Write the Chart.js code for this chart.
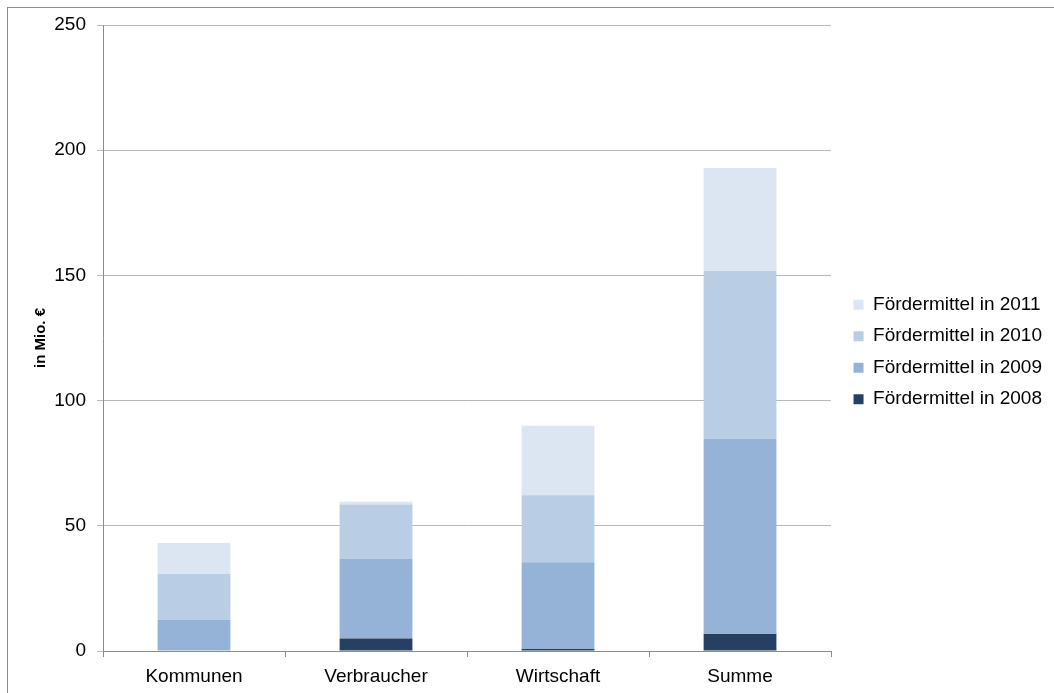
<!DOCTYPE html>
<html>
<head>
<meta charset="utf-8">
<script src="https://cdn.jsdelivr.net/npm/chart.js@4"></script>
<style>
  html, body { margin: 0; padding: 0; background: #fff; }
  #wrap { position: relative; width: 1054px; height: 693px; }
  #frame { position: absolute; left: 7px; top: 7px; right: 0; bottom: 0;
           border-top: 1px solid #8c8c8c; border-left: 1px solid #8c8c8c; }
  canvas { position: absolute; left: 0; top: 0; }
</style>
</head>
<body>
<div id="wrap">
  <div id="frame"></div>
  <canvas id="foerderChart" width="1054" height="693"></canvas>
</div>
<script>
const categories = ["Kommunen", "Verbraucher", "Wirtschaft", "Summe"];
const mittel2008 = [0.2, 5.0, 0.8, 6.8];
const mittel2009 = [12.3, 31.7, 34.6, 78.0];
const mittel2010 = [18.3, 21.8, 26.8, 67.1];
const mittel2011 = [12.3, 1.1, 27.8, 41.0];
const yTicks = [0, 50, 100, 150, 200, 250];

const font = "'Liberation Sans', Arial, sans-serif";
const gridGray = "#b8b8b8";
const axisGray = "#8c8c8c";

function bars(label, data, color) {
    return {
        label: label,
        data: data,
        backgroundColor: color,
        borderWidth: 0,
        barPercentage: 0.4,
        categoryPercentage: 1
    };
}

// nudge the legend a bit away from the plot and up
const legendShift = {
    id: "legendShift",
    afterLayout(chart) {
        const lg = chart.legend;
        lg.left += 10; lg.right += 10;
        lg.top -= 7; lg.bottom -= 7;
    }
};

const foerderChart = new Chart(
document.getElementById("foerderChart"),
{
    type: "bar",
    data: {
        labels: categories,
        datasets: [
            bars("Fördermittel in 2008", mittel2008, "#254061"),
            bars("Fördermittel in 2009", mittel2009, "#95b3d7"),
            bars("Fördermittel in 2010", mittel2010, "#b9cde5"),
            bars("Fördermittel in 2011", mittel2011, "#dce6f2")
        ]
    },
    plugins: [legendShift],
    options: {
        responsive: false,
        animation: false,
        layout: { padding: { top: 25, left: 32, bottom: 0, right: 12 } },
        plugins: {
            tooltip: { enabled: false },
            legend: {
                position: "right",
                reverse: true,
                labels: {
                    boxWidth: 10,
                    boxHeight: 10,
                    padding: 12.5,
                    color: "#000",
                    font: { family: font, size: 19 }
                }
            }
        },
        scales: {
            x: {
                stacked: true,
                grid: {
                    display: true,
                    drawOnChartArea: false,
                    drawTicks: true,
                    tickLength: 6,
                    color: axisGray
                },
                border: { color: axisGray },
                ticks: {
                    color: "#000",
                    padding: 8,
                    font: { family: font, size: 19 }
                },
                afterFit: function(scale) { scale.height = 42; }
            },
            y: {
                stacked: true,
                min: yTicks[0],
                max: yTicks[yTicks.length - 1],
                afterBuildTicks: function(scale) {
                    scale.ticks = yTicks.map(v => ({ value: v }));
                },
                grid: {
                    color: gridGray,
                    tickLength: 6,
                    drawTicks: true
                },
                border: { color: axisGray },
                ticks: {
                    color: "#000",
                    padding: 11,
                    font: { family: font, size: 19 }
                },
                title: {
                    display: true,
                    text: "in Mio. €",
                    color: "#000",
                    padding: { top: 0, bottom: 0 },
                    font: { family: font, size: 15, weight: "bold" }
                },
                afterFit: function(scale) { scale.width = 71; }
            }
        }
    }
});
</script>
</body>
</html>
